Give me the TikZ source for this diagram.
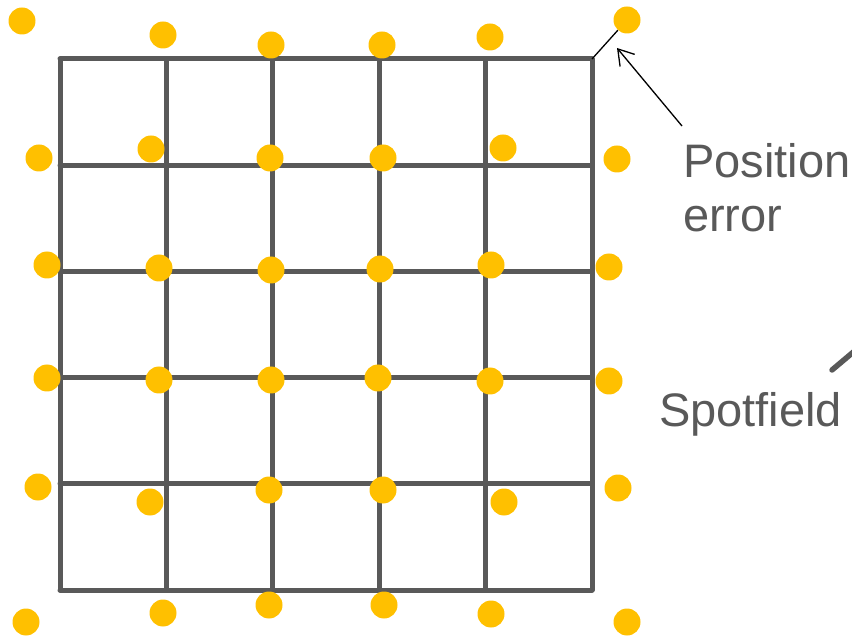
\documentclass[tikz,border=0pt]{standalone}
\usepackage{fontspec}
\setmainfont{Liberation Sans}
\usetikzlibrary{arrows.meta}
\definecolor{gridgray}{HTML}{595959}
\definecolor{dotyellow}{HTML}{FFC000}
\begin{document}
\begin{tikzpicture}[x=1pt,y=-1pt,
  spot/.style={circle,fill=dotyellow,inner sep=0pt,minimum size=27pt},
  gridline/.style={draw=gridgray,line width=5pt,line cap=round,line join=round},
  lbl/.style={text=gridgray,font=\fontsize{47}{54}\selectfont,inner sep=0pt},
  pointer/.style={draw=black,line width=1.3pt,-{Straight Barb[length=15pt,width=19pt,line width=1.3pt]}}]
\useasboundingbox (0,0) rectangle (852,636);
\clip (0,0) rectangle (852,636);
% grid
\foreach \i in {0,...,5} {
  \draw[gridline] ({60+\i*106.4},59) -- ({60+\i*106.4},590);
  \draw[gridline] (60,{59+\i*106.2}) -- (592,{59+\i*106.2});
}
\coordinate (corner) at (592,59);
% spots
\foreach \r/\c/\x/\y in {
  0/0/22/21, 0/1/163/35, 0/2/271/45, 0/3/382/45, 0/4/490/37, 0/5/627/20,
  1/0/39/158, 1/1/151/149, 1/2/270/158, 1/3/383/158, 1/4/503/148, 1/5/617/159,
  2/0/47/265, 2/1/159/268, 2/2/271/270, 2/3/380/269, 2/4/491/265, 2/5/609/267,
  3/0/47/378, 3/1/159/380, 3/2/271/380, 3/3/378/378, 3/4/490/381, 3/5/609/381,
  4/0/38/487, 4/1/150/502, 4/2/269/490, 4/3/383/490, 4/4/504/502, 4/5/618/488,
  5/0/26/622, 5/1/163/613, 5/2/269/605, 5/3/384/605, 5/4/491/614, 5/5/627/622} {
  \node[spot] (d\r\c) at (\x,\y) {};
}
% position error
\draw[black,line width=1.3pt] (corner) -- (d05);
\node[lbl,anchor=north west,align=left] (pe) at (683,143) {Position\\error};
\coordinate (petail) at (682,126);
\coordinate (pehead) at (617,48);
\draw[pointer] (petail) -- (pehead);
% spotfield
\node[lbl,anchor=base west] (sf) at (659,427) {Spotfield};
\coordinate (sfa) at (832,370);
\coordinate (sfb) at (870,338);
\draw[gridline,line width=5.5pt] (sfa) -- (sfb);
\end{tikzpicture}
\end{document}
